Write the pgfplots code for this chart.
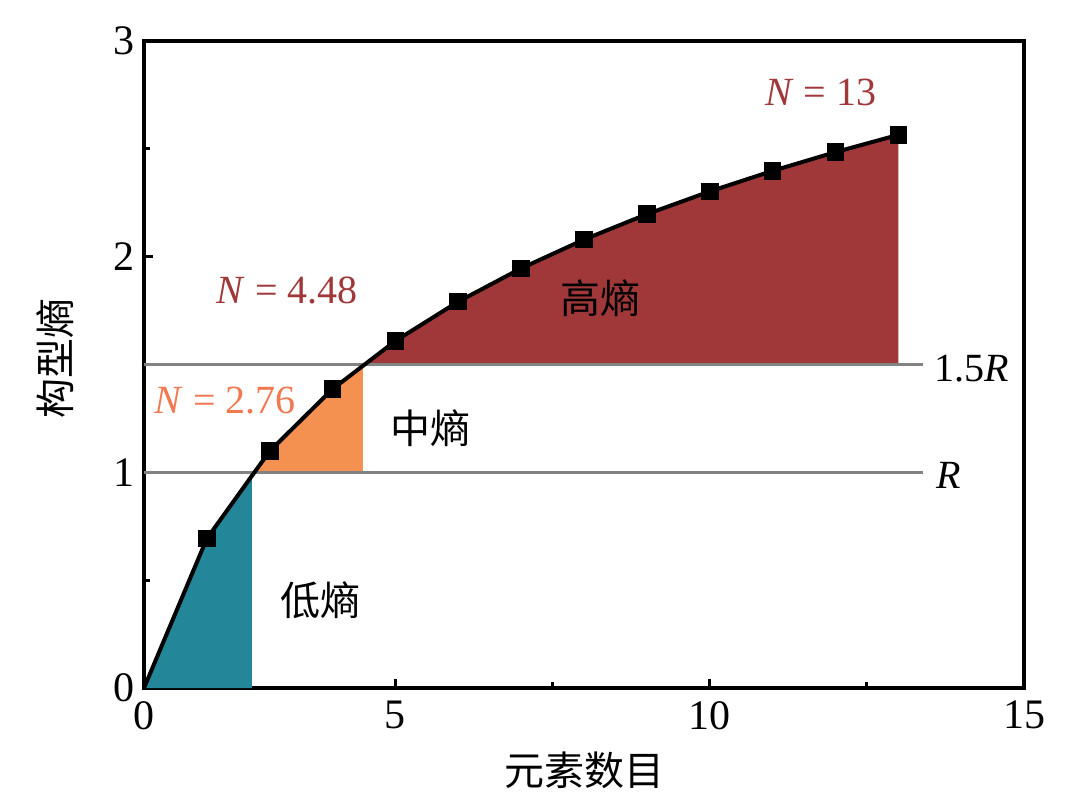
\documentclass[border=0pt]{standalone}
\usepackage{fontspec}
\setmainfont{Liberation Serif}
\newfontfamily\cjk{Noto Sans CJK SC}
\usepackage{pgfplots}
\pgfplotsset{compat=1.18}
\definecolor{teal1}{RGB}{35,134,153}
\definecolor{org}{RGB}{245,145,80}
\definecolor{dred}{RGB}{160,56,57}
\definecolor{orgtxt}{RGB}{242,120,80}
\definecolor{gline}{RGB}{130,130,130}
\begin{document}
\begin{tikzpicture}
\begin{axis}[
 width=440pt, height=323.5pt, scale only axis,
 xmin=1, xmax=15, ymin=0, ymax=3,
 xtick={1,5,10,15}, xticklabels={0,5,10,15},
 minor xtick={2.5,7.5,12.5},
 ytick={0,1,2,3}, minor ytick={0.5,1.5,2.5},
 tick pos=left, tick align=inside,
 major tick length=4.5pt, minor tick length=3pt,
 axis line style={line width=2pt},
 every tick/.style={black, line width=1.6pt},
 /pgf/number format/assume math mode=true,
 tick label style={font=\fontsize{21}{24}\selectfont},
 xticklabel style={yshift=-3pt},
 yticklabel style={xshift=-1pt},
 xlabel={\cjk 元素数目}, ylabel={\cjk 构型熵},
 label style={font=\fontsize{20}{24}\selectfont},
 xlabel style={at={(axis description cs:0.501,-0.127)}, anchor=center},
 ylabel style={at={(axis description cs:-0.101,0.51)}, anchor=center},
 clip=false,
]
\addplot[fill=teal1, draw=none] coordinates {(1,0) (2,0.6931) (2.7183,1) (2.7183,0)};
\addplot[fill=org, draw=none] coordinates {(2.7183,1) (3,1.0986) (4,1.3863) (4.4817,1.5) (4.4817,1)};
\addplot[fill=dred, draw=none] coordinates {(4.4817,1.5) (5,1.6094) (6,1.7918) (7,1.9459) (8,2.0794) (9,2.1972) (10,2.3026) (11,2.3979) (12,2.4849) (13,2.5649) (13,1.5)};
\addplot[gline, line width=1.8pt] coordinates {(1,1) (13.4,1)};
\addplot[gline, line width=1.8pt] coordinates {(1,1.5) (13.4,1.5)};
\addplot[black, line width=2pt, mark=square*, mark size=3.4pt, mark options={solid}, mark indices={2,3,4,5,6,7,8,9,10,11,12,13}] coordinates {(1,0) (2,0.6931) (3,1.0986) (4,1.3863) (5,1.6094) (6,1.7918) (7,1.9459) (8,2.0794) (9,2.1972) (10,2.3026) (11,2.3979) (12,2.4849) (13,2.5649)};
\node[font=\fontsize{20}{24}\selectfont, text=dred] at (axis cs:11.77,2.763) {\textit{N} = 13};
\node[font=\fontsize{20}{24}\selectfont, text=dred] at (axis cs:3.28,1.845) {\textit{N} = 4.48};
\node[font=\fontsize{20}{24}\selectfont, text=orgtxt] at (axis cs:2.29,1.335) {\textit{N} = 2.76};
\node[font=\fontsize{20}{24}\selectfont\cjk] at (axis cs:8.26,1.808) {高熵};
\node[font=\fontsize{20}{24}\selectfont\cjk] at (axis cs:5.56,1.205) {中熵};
\node[font=\fontsize{20}{24}\selectfont\cjk] at (axis cs:3.81,0.408) {低熵};
\node[font=\fontsize{20}{24}\selectfont, anchor=west, inner sep=0pt] at (axis cs:13.57,1.483) {1.5\textit{R}};
\node[font=\fontsize{20}{24}\selectfont, anchor=west, inner sep=0pt] at (axis cs:13.6,0.987) {\textit{R}};
\coordinate (bbl) at (rel axis cs:-0.1636,-0.187);
\coordinate (btr) at (rel axis cs:1.0636,1.0634);
\end{axis}
\pgfresetboundingbox
\path (bbl) rectangle (btr);
\end{tikzpicture}
\end{document}
